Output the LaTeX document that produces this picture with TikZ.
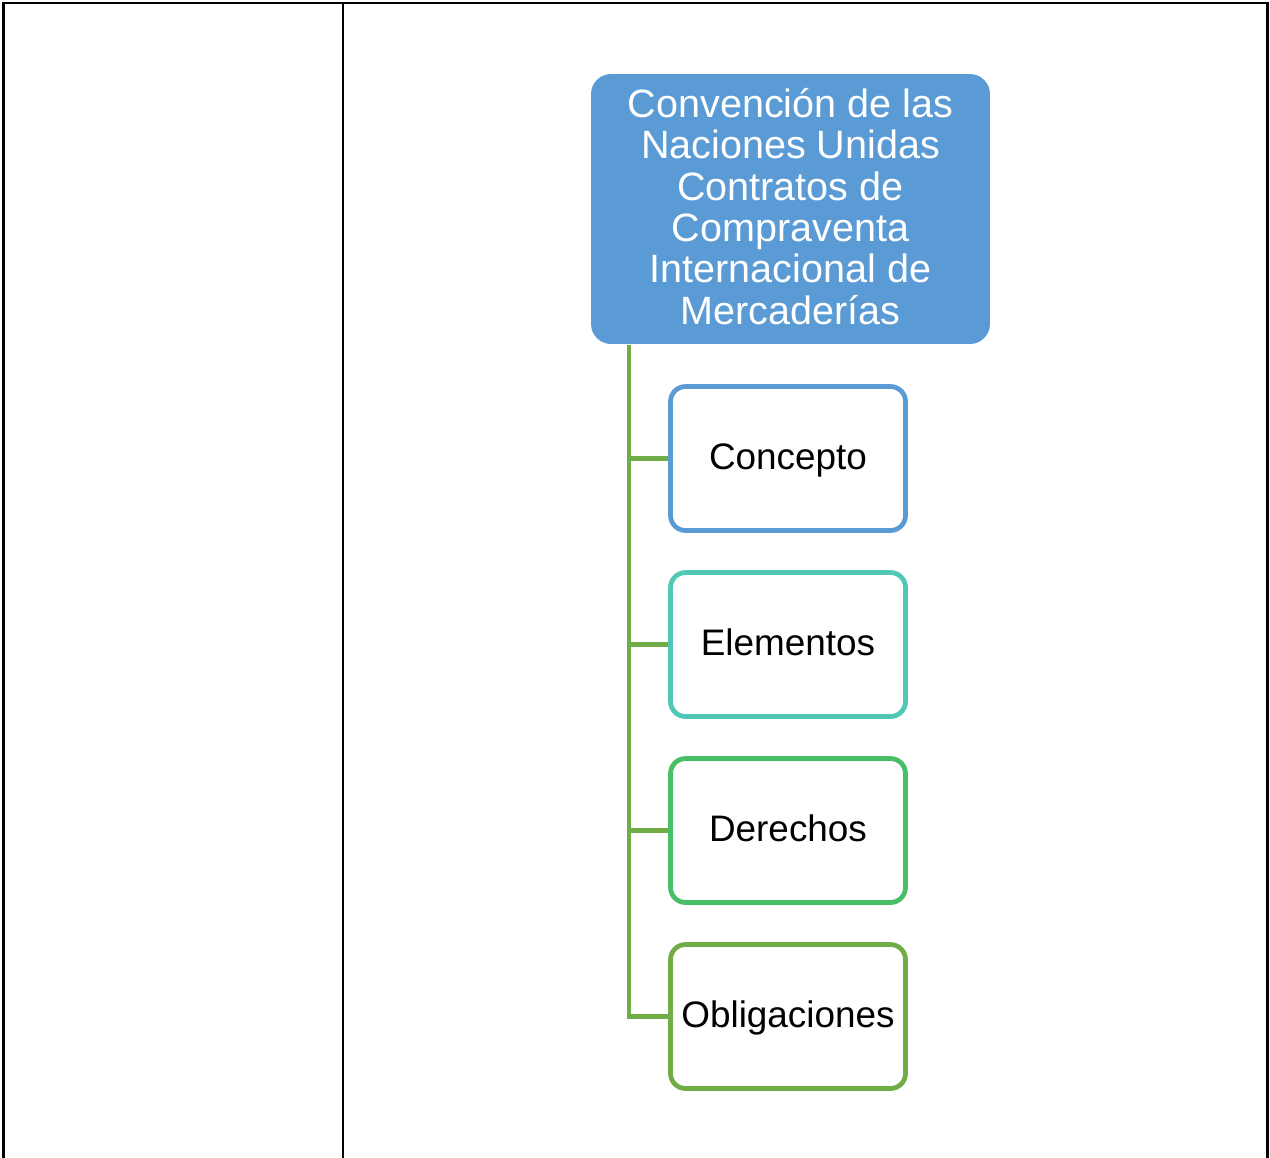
\documentclass[tikz,border=0pt]{standalone}
\usepackage{fontspec}
\setmainfont{Liberation Sans}
\definecolor{mainblue}{HTML}{5B9BD5}
\definecolor{teal}{HTML}{4FC9B5}
\definecolor{midgreen}{HTML}{48BF66}
\definecolor{olivegreen}{HTML}{70AD47}
\begin{document}
\begin{tikzpicture}[x=0.02cm,y=-0.02cm,
  frame/.style={line width=1.7pt,draw=black},
  mainbox/.style={fill=mainblue,rounded corners=0.4cm,minimum width=7.98cm,minimum height=5.4cm,
    align=center,text=white,inner sep=0pt,font=\fontsize{22.5pt}{23.5pt}\selectfont},
  child/.style={draw=#1,fill=white,line width=2.7pt,rounded corners=0.3cm,minimum width=4.7cm,
    minimum height=2.88cm,inner sep=0pt,text height=12pt,text depth=0pt,
    font=\fontsize{21pt}{24pt}\selectfont},
  conn/.style={draw=olivegreen,line width=2.8pt}]
\useasboundingbox (0,0) rectangle (1270,1157);
% table frame
\draw[frame] (3.5,1160) -- (3.5,3) -- (1267.5,3) -- (1267.5,1160);
\draw[frame] (343,3) -- (343,1160);
% nodes
\node[mainbox] (main) at (790.5,209) {\raisebox{0pt}[\dimexpr\height+4pt\relax][\depth]{\begin{tabular}{@{}c@{}}Convención de las\\Naciones Unidas\\Contratos de\\Compraventa\\Internacional de\\Mercaderías\end{tabular}}};
\coordinate (trunk) at (629,345);
\node[child=mainblue] (c1) at (788,458.5) {Concepto};
\node[child=teal] (c2) at (788,644.5) {Elementos};
\node[child=midgreen] (c3) at (788,830.5) {Derechos};
\node[child=olivegreen] (c4) at (788,1016.5) {Obligaciones};
% connectors
\draw[conn] (trunk) |- (c4.west);
\draw[conn] (trunk |- c1.west) -- (c1.west);
\draw[conn] (trunk |- c2.west) -- (c2.west);
\draw[conn] (trunk |- c3.west) -- (c3.west);
\end{tikzpicture}
\end{document}
